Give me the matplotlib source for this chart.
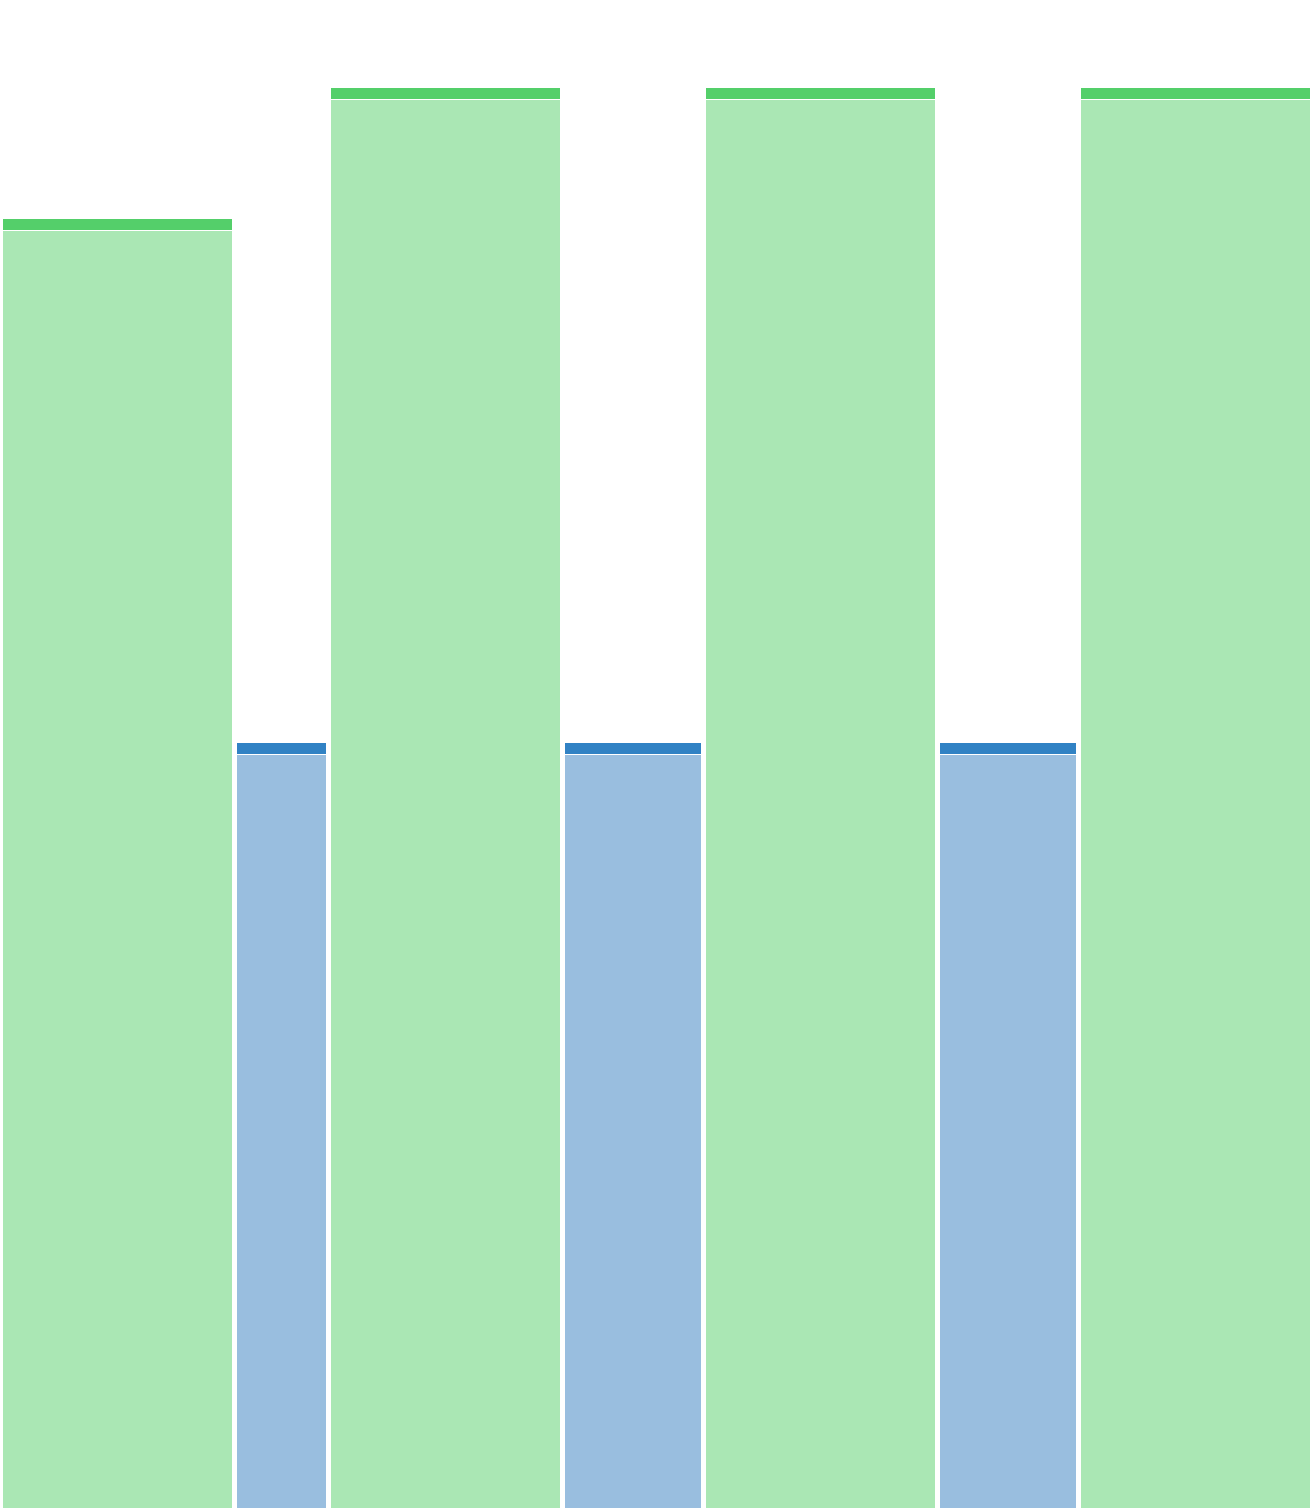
import numpy as np
import matplotlib.pyplot as plt

# bar order left to right: green, blue, green, blue, green, blue, green
kinds = ['green', 'blue', 'green', 'blue', 'green', 'blue', 'green']
values = [90.8, 53.9, 100, 53.9, 100, 53.9, 100]
widths = [229, 89, 229, 136, 229, 136, 229]

gap = 5
colors = {
    'green': ('#54cf6a', '#aae7b4'),
    'blue': ('#3182c4', '#99bedf'),
}

fig = plt.figure(figsize=(13.12, 15.08), dpi=100)
ax = fig.add_axes([0, 0, 1, 1])

ymax = 100 * 1508 / 1420
px = ymax / 1508  # one pixel in data units
cap = 11 * px
sep = 1.5 * px

lefts = np.cumsum([0] + [w + gap for w in widths[:-1]])
for left, w, v, k in zip(lefts, widths, values, kinds):
    dark, light = colors[k]
    ax.bar(left, v - cap - sep, width=w, align='edge', color=light, linewidth=0)
    ax.bar(left, cap, bottom=v - cap, width=w, align='edge', color=dark, linewidth=0)

ax.set_xlim(-3, 1309)
ax.set_ylim(0, ymax)
ax.set_axis_off()

plt.savefig('out.png', dpi=100)
